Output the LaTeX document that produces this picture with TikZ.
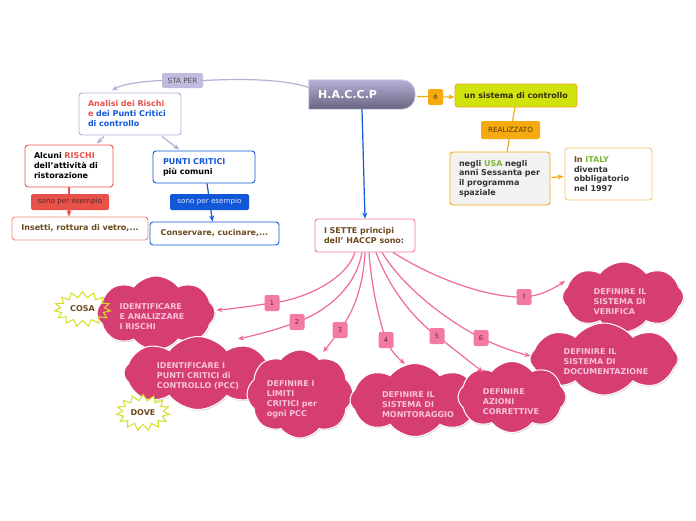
\documentclass[tikz,border=0pt]{standalone}
\usepackage{fontspec}
\setmainfont{DejaVu Sans}
\usetikzlibrary{shapes.symbols,shapes.geometric,arrows.meta,calc,shadows}
\definecolor{lav}{HTML}{B7B0D6}
\definecolor{lavfill}{HTML}{C2BBDF}
\definecolor{htop}{HTML}{B6B0D8}
\definecolor{hmid}{HTML}{8E89AC}
\definecolor{hbot}{HTML}{68647E}
\definecolor{hbord}{HTML}{D4D0E8}
\definecolor{redc}{HTML}{E8524A}
\definecolor{redlight}{HTML}{F08A80}
\definecolor{redtext}{HTML}{5A2A22}
\definecolor{bluec}{HTML}{1257D8}
\definecolor{bluetext}{HTML}{DCE6FA}
\definecolor{orc}{HTML}{F5AA10}
\definecolor{ortext}{HTML}{5A3A00}
\definecolor{orlight}{HTML}{F7C26B}
\definecolor{ygreen}{HTML}{D0E30F}
\definecolor{ygtext}{HTML}{2E2E10}
\definecolor{brownc}{HTML}{6B4A1E}
\definecolor{greenc}{HTML}{7AB833}
\definecolor{darkc}{HTML}{333333}
\definecolor{grayfill}{HTML}{F2F2F2}
\definecolor{graytext}{HTML}{555555}
\definecolor{pinkbord}{HTML}{EE7AA0}
\definecolor{pinkline}{HTML}{F06A9A}
\definecolor{numpink}{HTML}{F27AA4}
\definecolor{numtext}{HTML}{6A2040}
\definecolor{cloudpink}{HTML}{D63E73}
\definecolor{cloudtext}{HTML}{F7C3D8}
\definecolor{starc}{HTML}{D2E021}
\begin{document}
\begin{tikzpicture}[x=1pt,y=-1pt,
  box/.style={draw, rounded corners=3pt, fill=white, line width=0.9pt, inner ysep=3pt,
    font=\bfseries\fontsize{8}{10}\selectfont, align=left},
  lab/.style={rounded corners=2pt, inner sep=0pt, font=\fontsize{7.2}{8}\selectfont},
  cl/.style={cloud, cloud puffs=8, cloud puff arc=105, cloud ignores aspect, fill=cloudpink,
    draw=white, line width=1pt, inner sep=0pt,
    drop shadow={fill=black, opacity=0.15, shadow xshift=0.8pt, shadow yshift=-1.2pt}},
  cltxt/.style={text=cloudtext, font=\bfseries\fontsize{8}{10}\selectfont, align=left, inner sep=0pt},
  num/.style={fill=numpink, rounded corners=2pt, minimum width=15pt, minimum height=16pt,
    inner sep=0pt, font=\fontsize{6.5}{7}\selectfont, text=numtext},
  pk/.style={draw=pinkline, line width=1.2pt, -{Stealth[length=6pt,width=5pt]}},
  conn/.style={line width=1.2pt, -{Stealth[length=6pt,width=5pt]}},
  starb/.style={starburst, starburst points=15, starburst point height=6pt, random starburst=0,
    inner sep=0pt, line width=1pt},
]
\useasboundingbox[fill=white] (0,0) rectangle (696,520);

% ---------- top ----------
\node[minimum width=106pt, minimum height=29pt, inner sep=0pt] (haccp) at (362,94.5) {};
\shade[top color=htop, middle color=hmid, bottom color=hbot, draw=hbord, line width=0.8pt]
  (haccp.south west) -- (haccp.north west) [rounded corners=13pt] -- (haccp.north east) -- (haccp.south east) [sharp corners] -- cycle;
\node[anchor=west, text=white, font=\bfseries\fontsize{11}{12}\selectfont, inner sep=0pt] (haccptxt) at (318,94) {H.A.C.C.P};

\node[box, draw=lav, text width=84pt, inner xsep=9pt, minimum height=42pt] (analisi) at (130,114)
  {\textcolor{redc}{Analisi dei Rischi}\\\textcolor{redc}{e} \textcolor{bluec}{dei Punti Critici}\\\textcolor{bluec}{di controllo}};

\node[box, draw=redc, text width=70pt, inner xsep=9pt, minimum height=42pt, text=black] (alcuni) at (69,166)
  {Alcuni \textcolor{redc}{RISCHI}\\dell'attività di\\ristorazione};

\node[box, draw=redlight, align=center, minimum width=136pt, minimum height=23pt, text=brownc] (insetti) at (80,228.5)
  {Insetti, rottura di vetro,...};

\node[box, draw=bluec, text width=82pt, inner xsep=10pt, minimum height=32pt, text=black] (punti) at (204,167)
  {\textcolor{bluec}{PUNTI CRITICI}\\più comuni};

\node[box, draw=bluec, align=center, minimum width=129pt, minimum height=23pt, text=brownc] (conserv) at (214.5,233.5)
  {Conservare, cucinare,...};

\node[box, draw=pinkbord, text width=82pt, inner xsep=9pt, minimum height=33pt, text=brownc] (isette) at (365,235.5)
  {I SETTE principi\\dell' HACCP sono:};

\node[box, draw=orc, fill=ygreen, align=center, minimum width=122pt, minimum height=23pt, text=ygtext] (unsist) at (516,95.5)
  {un sistema di controllo};

\node[box, draw=orc, fill=grayfill, text width=82pt, inner xsep=9pt, minimum height=53pt, text=darkc,
  font=\bfseries\fontsize{8}{9.6}\selectfont] (negli) at (500,178.5)
  {negli \textcolor{greenc}{USA} negli\\anni Sessanta per\\il programma\\spaziale};

\node[box, draw=orlight, text width=69pt, inner xsep=9pt, minimum height=52pt, text=darkc,
  font=\bfseries\fontsize{8}{9.7}\selectfont] (italy) at (608.5,174)
  {\textcolor{brownc}{In} \textcolor{greenc}{ITALY}\\diventa\\obbligatorio\\nel 1997};

% ---------- connectors (top) ----------
\draw[draw=lav, line width=1.2pt] ($(haccp.west)+(0,-7)$) .. controls (280,78) and (235,79) .. (203,80.5);
\draw[conn, draw=lav] (162,80.5) .. controls (145,81) and (122,84) .. ($(analisi.north)+(-18,-2)$);
\node[lab, fill=lavfill, minimum width=41pt, minimum height=15pt, text=graytext] (staper) at (182.5,80.5) {STA PER};

\draw[conn, draw=lav] ($(analisi.south)+(-26,1)$) -- ($(alcuni.north)+(28,-1)$);
\draw[conn, draw=lav] ($(analisi.south)+(32,1)$) -- ($(punti.north)+(-25,-1)$);

\draw[conn, draw=redc] (alcuni.south) -- (alcuni.south |- insetti.north);
\node[lab, fill=redc, minimum width=78pt, minimum height=16pt, text=redtext] (sonored) at (70,202) {sono per esempio};

\draw[conn, draw=bluec] ($(punti.south)+(3,0)$) -- ($(conserv.north)+(-2,0)$);
\node[lab, fill=bluec, minimum width=79pt, minimum height=16pt, text=bluetext] (sonoblue) at (209.5,202) {sono per esempio};

\draw[conn, draw=bluec] (haccp.south) -- (isette.north);

\draw[conn, draw=orc] ($(haccp.east)+(2,2)$) -- ($(unsist.west)+(0,1.5)$);
\node[lab, fill=orc, minimum width=15pt, minimum height=16pt, text=ortext] (e) at (435.5,97) {é};

\draw[draw=orc, line width=1.2pt] ($(unsist.south)+(-1,0)$) -- ($(negli.north)+(7,0)$);
\node[lab, fill=orc, minimum width=59pt, minimum height=18pt, text=ortext] (realizz) at (510.5,130) {REALIZZATO};

\draw[conn, draw=orc] ($(negli.east)+(1,-1)$) -- ($(italy.west)+(-1,2.5)$);

% ---------- clouds ----------
\node[starb, fill=white, minimum width=56pt, minimum height=35pt] (cosafill) at (82.5,309) {};
\node[cl, minimum width=118pt, minimum height=74pt] (c1) at (156,313) {};
\node[cl, minimum width=148pt, minimum height=73pt] (c2) at (198,373) {};
\node[cl, minimum width=106pt, minimum height=88pt] (c3) at (300,394) {};
\node[cl, minimum width=130pt, minimum height=73pt] (c4) at (415,400) {};
\node[cl, minimum width=121pt, minimum height=70pt] (c7) at (623,297) {};
\node[cl, minimum width=148pt, minimum height=72pt] (c6) at (604,359) {};
\node[cl, minimum width=108pt, minimum height=71pt] (c5) at (512,397) {};

\node[cltxt] (t1) at (152,317) {IDENTIFICARE\\E ANALIZZARE\\I RISCHI};
\node[cltxt] (t2) at (198,376) {IDENTIFICARE I\\PUNTI CRITICI di\\CONTROLLO (PCC)};
\node[cltxt] (t3) at (292,399) {DEFINIRE I\\LIMITI\\CRITICI per\\ogni PCC};
\node[cltxt] (t4) at (418,405) {DEFINIRE IL\\SISTEMA DI\\MONITORAGGIO};
\node[cltxt] (t5) at (511,402) {DEFINIRE\\AZIONI\\CORRETTIVE};
\node[cltxt] (t6) at (606,362) {DEFINIRE IL\\SISTEMA DI\\DOCUMENTAZIONE};
\node[cltxt] (t7) at (620,302) {DEFINIRE IL\\SISTEMA DI\\VERIFICA};

\node[starb, draw=starc, minimum width=56pt, minimum height=35pt,
  font=\bfseries\fontsize{8}{9}\selectfont, text=brownc] (cosa) at (82.5,309) {COSA};
\node[starb, draw=starc, fill=white, minimum width=53pt, minimum height=36pt,
  font=\bfseries\fontsize{8}{9}\selectfont, text=brownc] (dove) at (143,412.5) {DOVE};

% ---------- seven principles ----------
\draw[pk] ($(isette.south)+(-10,0)$) .. controls (345,282) and (300,300) .. (272,303)
  .. controls (252,306) and (232,309) .. ($(c1.east)+(1,-3)$);
\draw[pk] ($(isette.south)+(-3,0)$) .. controls (355,292) and (320,314) .. (297,322)
  .. controls (276,330) and (256,335) .. ($(c2.center)+(40,-34)$);
\draw[pk] (isette.south) .. controls (363,290) and (352,314) .. (340,330)
  .. controls (334,338) and (328,346) .. ($(c3.center)+(23,-42)$);
\draw[pk] ($(isette.south)+(4,0)$) .. controls (372,292) and (380,322) .. (386,340)
  .. controls (390,350) and (398,358) .. ($(c4.center)+(-10,-36)$);
\draw[pk] ($(isette.south)+(11,0)$) .. controls (390,290) and (415,320) .. (437,336)
  .. controls (455,350) and (470,362) .. ($(c5.center)+(-29,-25)$);
\draw[pk] ($(isette.south)+(17,0)$) .. controls (405,290) and (450,322) .. (481,338)
  .. controls (500,347) and (515,352) .. ($(c6.west)+(1,-3)$);
\draw[pk] ($(isette.south)+(28,0)$) .. controls (440,282) and (492,298) .. (524,297)
  .. controls (540,296) and (553,289) .. ($(c7.west)+(3,-16)$);

\node[num] (n1) at (272,303) {1};
\node[num] (n2) at (297,322) {2};
\node[num] (n3) at (340,330) {3};
\node[num] (n4) at (386,340) {4};
\node[num] (n5) at (437,336) {5};
\node[num] (n6) at (481,338) {6};
\node[num] (n7) at (524,297) {7};
\end{tikzpicture}
\end{document}
